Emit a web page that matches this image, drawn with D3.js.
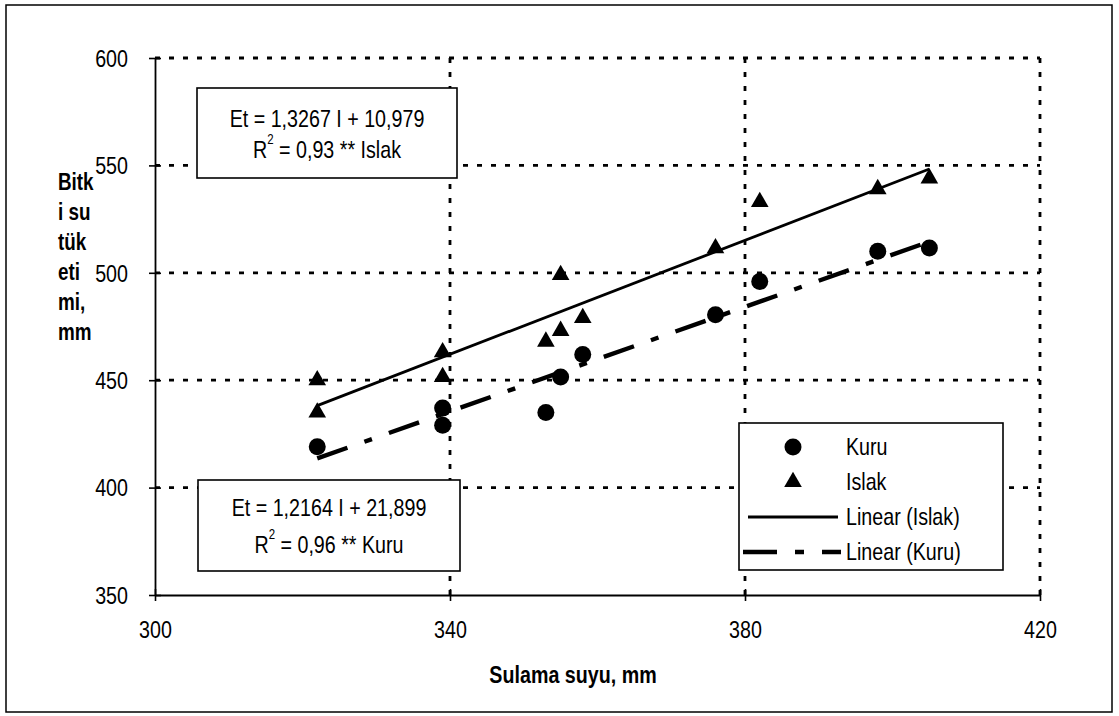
<!DOCTYPE html>
<html><head><meta charset="utf-8">
<script src="https://cdn.jsdelivr.net/npm/d3@7"></script>
<style>body{margin:0;background:#fff} svg{display:block} text{font-family:"Liberation Sans",Arial,sans-serif;fill:#000}</style>
</head><body><svg id="c" width="1119" height="716"></svg>
<script>
// ---- data ----
const kuruX = [322, 339, 339, 353, 355, 358, 376, 382, 398, 405];
const kuruY = [419, 437, 429, 435, 451.5, 462, 480.5, 496, 510, 511.5];
const islakX = [322, 322, 339, 339, 353, 355, 355, 358, 376, 382, 398, 405];
const islakY = [450, 435, 463, 451.5, 468, 499, 473, 479, 511.5, 533, 539, 544];
const islakFit = [1.3267, 10.979];
const kuruFit = [1.2164, 21.899];
const xTicks = [300, 340, 380, 420];
const yTicks = [350, 400, 450, 500, 550, 600];
const yTitle = ["Bitk", "i su", "tük", "eti", "mi,", "mm"];
const xTitle = "Sulama suyu, mm";
const legendLabels = ["Kuru", "Islak", "Linear (Islak)", "Linear (Kuru)"];

const SX = 0.82; // condensed look
const svg = d3.select("#c");
const L = 155, R = 1040, T = 58, B = 595;
const x = d3.scaleLinear().domain([300, 420]).range([L, R]);
const y = d3.scaleLinear().domain([350, 600]).range([B, T]);

function txt(parent, px, py, str, size, anchor, weight) {
  const gg = parent.append("g").attr("transform", `translate(${px},${py}) scale(${SX},1)`);
  return gg.append("text").attr("x", 0).attr("y", 0).attr("text-anchor", anchor || "start")
    .attr("dominant-baseline", "central").attr("font-size", size)
    .attr("font-weight", weight || "normal").text(str);
}

// outer frame
svg.append("rect").attr("x", 6).attr("y", 5).attr("width", 1106).attr("height", 707)
  .attr("fill", "none").attr("stroke", "#000").attr("stroke-width", 1.5);

// gridlines (dotted)
const g = svg.append("g");
g.selectAll("line.h").data(yTicks.filter(d => d > 350)).enter().append("line")
  .attr("x1", L).attr("x2", R).attr("y1", d => y(d)).attr("y2", d => y(d))
  .attr("stroke", "#000").attr("stroke-width", 2.8).attr("stroke-dasharray", "5,9");
g.selectAll("line.v").data(xTicks.filter(d => d > 300)).enter().append("line")
  .attr("y1", T).attr("y2", B).attr("x1", d => x(d)).attr("x2", d => x(d))
  .attr("stroke", "#000").attr("stroke-width", 2.8).attr("stroke-dasharray", "5,9");

// axes
const ax = svg.append("g").attr("transform", `translate(0,${B})`)
  .call(d3.axisBottom(x).tickValues(xTicks).tickSize(6).tickSizeOuter(0));
ax.select(".domain").attr("stroke-width", 1.8);
ax.selectAll(".tick line").attr("y1", -6).attr("stroke-width", 1.6);
ax.selectAll(".tick text").attr("font-size", 24).attr("y", 35).attr("dy", "0")
  .attr("dominant-baseline", "central").attr("transform", `scale(${SX},1)`)
  .style("font-family", '"Liberation Sans",Arial,sans-serif');
const ay = svg.append("g").attr("transform", `translate(${L},0)`)
  .call(d3.axisLeft(y).tickValues(yTicks).tickSize(6).tickSizeOuter(0));
ay.select(".domain").attr("stroke-width", 1.8);
ay.selectAll(".tick line").attr("x1", 6).attr("x2", -6).attr("stroke-width", 1.6);
ay.selectAll(".tick text").attr("font-size", 24).attr("x", -27 / SX).attr("dy", "0")
  .attr("dominant-baseline", "central").attr("transform", `scale(${SX},1)`)
  .style("font-family", '"Liberation Sans",Arial,sans-serif');

// trend lines
const line = d3.line().x(d => x(d[0])).y(d => y(d[1]));
const ext = d3.extent(islakX);
svg.append("path").attr("d", line(ext.map(v => [v, islakFit[0] * v + islakFit[1]])))
  .attr("fill", "none").attr("stroke", "#000").attr("stroke-width", 2.8);
const extK = d3.extent(kuruX);
svg.append("path").attr("d", line(extK.map(v => [v, kuruFit[0] * v + kuruFit[1]])))
  .attr("fill", "none").attr("stroke", "#000").attr("stroke-width", 4.4)
  .attr("stroke-dasharray", "32,18,8,18");

// points
const tri = d3.symbol().type(d3.symbolTriangle).size(135);
svg.append("g").selectAll("path").data(islakX.map((v, i) => [v, islakY[i]])).enter().append("path")
  .attr("d", tri).attr("transform", d => `translate(${x(d[0])},${y(d[1])})`).attr("fill", "#000");
svg.append("g").selectAll("circle").data(kuruX.map((v, i) => [v, kuruY[i]])).enter().append("circle")
  .attr("cx", d => x(d[0])).attr("cy", d => y(d[1])).attr("r", 8.5).attr("fill", "#000");

// equation boxes
function eqBox(bx, by, bw, bh, l1y, l2y, eq, r2, tag) {
  const gb = svg.append("g");
  gb.append("rect").attr("x", bx).attr("y", by).attr("width", bw).attr("height", bh)
    .attr("fill", "#fff").attr("stroke", "#000").attr("stroke-width", 1.6);
  txt(gb, bx + bw / 2, l1y, eq, 24, "middle");
  const t = txt(gb, bx + bw / 2, l2y, "", 24, "middle");
  t.append("tspan").text("R");
  t.append("tspan").attr("font-size", 14).attr("dy", -10).text("2");
  t.append("tspan").attr("dy", 10).text(" = " + r2 + " ** " + tag);
}
eqBox(197, 88, 260, 90, 119, 149, "Et = 1,3267 I + 10,979", "0,93", "Islak");
eqBox(198, 480, 262, 91, 508, 544, "Et = 1,2164 I + 21,899", "0,96", "Kuru");

// legend
const lg = svg.append("g");
lg.append("rect").attr("x", 739).attr("y", 423).attr("width", 264).attr("height", 147)
  .attr("fill", "#fff").attr("stroke", "#000").attr("stroke-width", 1.6);
const ly = [447, 482, 517, 552];
lg.append("circle").attr("cx", 793).attr("cy", ly[0]).attr("r", 8.5).attr("fill", "#000");
lg.append("path").attr("d", tri).attr("transform", `translate(793,${ly[1]})`).attr("fill", "#000");
lg.append("line").attr("x1", 748).attr("x2", 838).attr("y1", ly[2]).attr("y2", ly[2])
  .attr("stroke", "#000").attr("stroke-width", 2.8);
lg.append("line").attr("x1", 743).attr("x2", 841).attr("y1", ly[3]).attr("y2", ly[3])
  .attr("stroke", "#000").attr("stroke-width", 4.4).attr("stroke-dasharray", "34,18,9,18");
legendLabels.forEach((d, i) => txt(lg, 846, ly[i], d, 24, "start"));

// axis titles
txt(svg, 573, 675, xTitle, 24, "middle", "bold");
const yt = svg.append("g");
yTitle.forEach((d, i) => txt(yt, 58, 182 + i * 30, d, 23, "start", "bold"));
</script></body></html>
